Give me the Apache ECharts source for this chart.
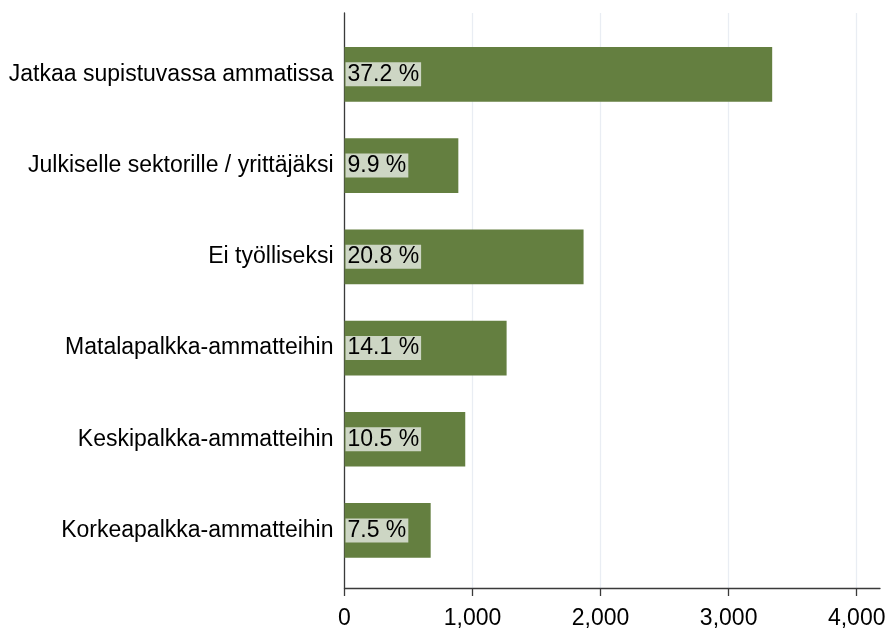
<!DOCTYPE html>
<html>
<head>
<meta charset="utf-8">
<script src="https://cdn.jsdelivr.net/npm/echarts@6/dist/echarts.min.js"></script>
<style>html,body{margin:0;padding:0;background:#fff}#c{width:890px;height:630px}</style>
</head>
<body>
<div id="c"></div>
<script>
const categories = [
  "Jatkaa supistuvassa ammatissa",
  "Julkiselle sektorille / yrittäjäksi",
  "Ei työlliseksi",
  "Matalapalkka-ammatteihin",
  "Keskipalkka-ammatteihin",
  "Korkeapalkka-ammatteihin"
];
const counts = [3340, 889, 1867, 1266, 943, 673];
const percents = ["37.2 %", "9.9 %", "20.8 %", "14.1 %", "10.5 %", "7.5 %"];
const xTicks = [0, 1000, 2000, 3000, 4000];

const FONT = "Liberation Sans, Arial, sans-serif";
const FS = 23;
const chart = echarts.init(document.getElementById('c'), null, {renderer: 'canvas'});
chart.setOption({
  animation: false,
  backgroundColor: '#ffffff',
  textStyle: {fontFamily: FONT},
  grid: [
    {left: 344.5, right: 33.3, top: 28.7, bottom: 53.9, containLabel: false},
    {left: 344.5, right: 10, top: 13, bottom: 38, containLabel: false}
  ],
  xAxis: [
    {
      gridIndex: 0, type: 'value', min: 0, max: 4000, interval: 1000,
      axisLine: {show: false}, axisTick: {show: false}, axisLabel: {show: false}, splitLine: {show: false}
    },
    {
      gridIndex: 1, type: 'value', min: 0, max: 4182, interval: 1000,
      axisLine: {show: true, lineStyle: {color: '#3a3a3a', width: 1.3}},
      axisTick: {show: true, length: 8, customValues: xTicks, lineStyle: {color: '#3a3a3a', width: 1.3}},
      axisLabel: {show: true, customValues: xTicks, margin: 19, fontSize: FS, color: '#000', fontFamily: FONT},
      splitLine: {show: true, lineStyle: {color: '#e9edf3', width: 1.3}}
    }
  ],
  yAxis: [
    {
      gridIndex: 0, type: 'category', data: categories, inverse: true,
      axisLine: {show: false}, axisTick: {show: false},
      axisLabel: {show: true, margin: 11, fontSize: FS, color: '#000', fontFamily: FONT},
      splitLine: {show: false}
    },
    {
      gridIndex: 1, type: 'value', min: 0, max: 1,
      axisLine: {show: true, lineStyle: {color: '#3a3a3a', width: 1.3}},
      axisTick: {show: false}, axisLabel: {show: false}, splitLine: {show: false}
    }
  ],
  series: [{
    type: 'bar',
    xAxisIndex: 0, yAxisIndex: 0,
    data: counts,
    barCategoryGap: '40%',
    itemStyle: {color: '#647f40'},
    label: {
      show: true,
      position: 'insideLeft',
      distance: 1,
      formatter: p => percents[p.dataIndex],
      fontSize: FS,
      fontFamily: FONT,
      color: '#000',
      backgroundColor: '#cdd6c4',
      padding: [1, 2, 0, 2]
    }
  }]
});
</script>
</body>
</html>
